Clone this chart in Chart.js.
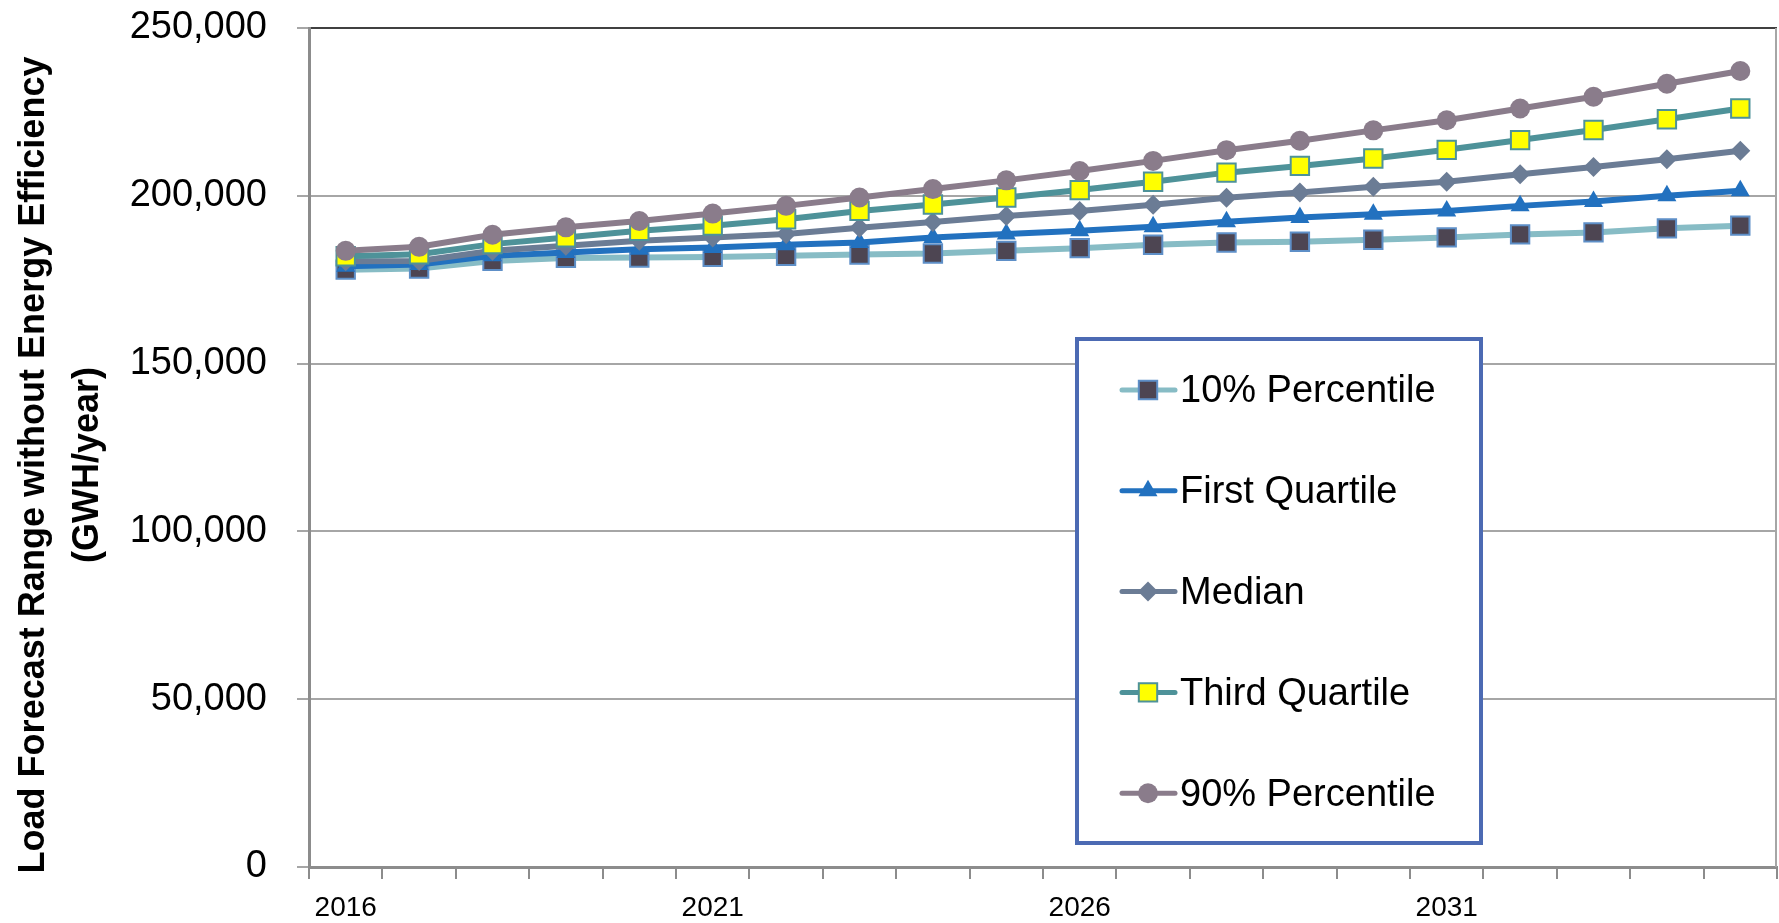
<!DOCTYPE html>
<html>
<head>
<meta charset="utf-8">
<script src="https://cdn.jsdelivr.net/npm/chart.js@4.4.1/dist/chart.umd.min.js"></script>
<style>
  html, body { margin: 0; padding: 0; background: #fff; overflow: hidden; }
  #wrap { width: 1779px; height: 923px; }
  canvas { display: block; }
</style>
</head>
<body>
<div id="wrap"><canvas id="forecast" width="1779" height="923"></canvas></div>
<script>
const years = ['2016', '2017', '2018', '2019', '2020', '2021', '2022', '2023', '2024', '2025',
               '2026', '2027', '2028', '2029', '2030', '2031', '2032', '2033', '2034', '2035'];

// GWH/year
const pct10 = [178000, 178300, 180600, 181500, 181600, 181800, 182100, 182500, 182800, 183600,
               184400, 185400, 186100, 186300, 186900, 187600, 188500, 189100, 190300, 191100];
const quart1 = [179000, 179500, 182100, 183100, 184100, 184600, 185400, 186100, 187600, 188600,
                189600, 190800, 192300, 193500, 194500, 195500, 197000, 198300, 200000, 201500];
const median = [180500, 180600, 183600, 185100, 186600, 187600, 188600, 190500, 192200, 194000,
                195500, 197300, 199400, 201000, 202700, 204200, 206400, 208600, 210900, 213400];
const quart3 = [182000, 182600, 185600, 187600, 189600, 191100, 193000, 195500, 197400, 199500,
                201700, 204200, 206900, 208900, 211100, 213700, 216600, 219600, 222800, 226000];
const pct90 = [183600, 184800, 188400, 190600, 192500, 194700, 197000, 199500, 202000, 204600,
               207400, 210400, 213600, 216400, 219500, 222500, 226000, 229500, 233400, 237200];

const seriesNames = ['10% Percentile', 'First Quartile', 'Median', 'Third Quartile', '90% Percentile'];
const yTitle = ['Load Forecast Range without Energy Efficiency', '(GWH/year)'];

const FONT = '"Liberation Sans", Arial, sans-serif';

const series = (label, data, line, fill, edge, style, radius, order) => ({
    label: label,
    data: data,
    borderColor: line,
    backgroundColor: fill,
    borderWidth: 6,
    tension: 0,
    pointStyle: style,
    pointRadius: radius,
    pointBackgroundColor: fill,
    pointBorderColor: edge,
    pointBorderWidth: style === 'rect' ? 2 : 0,
    order: order,
});

// y title, plot frame and the boxed legend
const extras = {
    id: 'extras',
    afterDraw(chart) {
        const ctx = chart.ctx;
        const area = chart.chartArea;

        ctx.save();
        ctx.strokeStyle = '#A6A6A6';
        ctx.lineWidth = 2;
        ctx.beginPath();
        ctx.moveTo(area.right - 1, area.top);
        ctx.lineTo(area.right - 1, area.bottom);
        ctx.stroke();
        ctx.restore();

        // rotated, condensed axis title
        ctx.save();
        ctx.fillStyle = '#000';
        ctx.font = 'bold 37px ' + FONT;
        ctx.textAlign = 'center';
        ctx.textBaseline = 'alphabetic';
        const sx = 817 / ctx.measureText(yTitle[0]).width;
        ctx.translate(44, 465);
        ctx.rotate(-Math.PI / 2);
        ctx.scale(sx, 1);
        ctx.fillText(yTitle[0], 0, 0);
        ctx.fillText(yTitle[1], 0, 54);
        ctx.restore();

        // legend box
        const bx = 1077, by = 339, bw = 404, bh = 504;
        ctx.save();
        ctx.fillStyle = '#fff';
        ctx.fillRect(bx, by, bw, bh);
        ctx.strokeStyle = '#4C6AB3';
        ctx.lineWidth = 4;
        ctx.strokeRect(bx, by, bw, bh);

        ctx.font = '38px ' + FONT;
        ctx.textBaseline = 'middle';
        chart.data.datasets.forEach((ds, i) => {
            const y = 390 + i * 100.8;
            ctx.strokeStyle = ds.borderColor;
            ctx.lineWidth = 5;
            ctx.lineCap = 'round';
            ctx.beginPath();
            ctx.moveTo(1122, y);
            ctx.lineTo(1175, y);
            ctx.stroke();

            ctx.fillStyle = ds.pointBackgroundColor;
            ctx.strokeStyle = ds.pointBorderColor;
            ctx.lineWidth = ds.pointBorderWidth;
            Chart.helpers.drawPoint(ctx, {
                pointStyle: ds.pointStyle,
                radius: ds.pointRadius,
                rotation: 0,
                borderWidth: ds.pointBorderWidth,
            }, 1148, y);

            ctx.fillStyle = '#000';
            ctx.fillText(ds.label, 1180, y + 2);
        });
        ctx.restore();
    }
};

new Chart(document.getElementById('forecast'), {
    type: 'line',
    data: {
        labels: years,
        datasets: [
            series(seriesNames[0], pct10, '#87BCC5', '#4D4552', '#5E8FC7', 'rect', 13, 4),
            series(seriesNames[1], quart1, '#2271BF', '#2271BF', '#2271BF', 'triangle', 11, 3),
            series(seriesNames[2], median, '#6B7C95', '#6B7C95', '#6B7C95', 'rectRot', 10, 2),
            series(seriesNames[3], quart3, '#4E9299', '#FFFF00', '#4E9299', 'rect', 13, 1),
            series(seriesNames[4], pct90, '#8A7C8B', '#8A7C8B', '#8A7C8B', 'circle', 10, 0),
        ],
    },
    options: {
        responsive: false,
        animation: false,
        devicePixelRatio: 1,
        layout: {
            autoPadding: false,
            padding: { left: 0, right: 2, top: 28, bottom: 0 },
        },
        plugins: {
            legend: { display: false },
            tooltip: { enabled: false },
        },
        scales: {
            x: {
                type: 'category',
                offset: true,
                grid: {
                    offset: true,
                    drawOnChartArea: false,
                    drawTicks: true,
                    tickLength: 12,
                    color: '#8C8C8C',
                    lineWidth: 2,
                },
                border: { color: '#8C8C8C', width: 3 },
                ticks: {
                    autoSkip: false,
                    maxRotation: 0,
                    minRotation: 0,
                    padding: 12,
                    color: '#000',
                    font: { family: FONT, size: 28 },
                    callback: (value, index) => (index % 5 === 0 ? years[index] : ''),
                },
                afterFit: (scale) => {
                    scale.height = 56;
                    scale.paddingLeft = 0;
                    scale.paddingRight = 0;
                },
            },
            y: {
                min: 0,
                max: 250000,
                grid: {
                    color: (c) => (c.tick && c.tick.value === 250000 ? '#404040' : '#A6A6A6'),
                    tickColor: '#A6A6A6',
                    lineWidth: 2,
                    tickLength: 12,
                },
                border: { color: '#8C8C8C', width: 3 },
                ticks: {
                    stepSize: 50000,
                    padding: 30,
                    color: '#000',
                    font: { family: FONT, size: 38 },
                    callback: (value) => value.toLocaleString('en-US'),
                },
                afterFit: (scale) => {
                    scale.width = 309;
                    scale.paddingTop = 0;
                    scale.paddingBottom = 0;
                },
            },
        },
    },
    plugins: [extras],
});
</script>
</body>
</html>
